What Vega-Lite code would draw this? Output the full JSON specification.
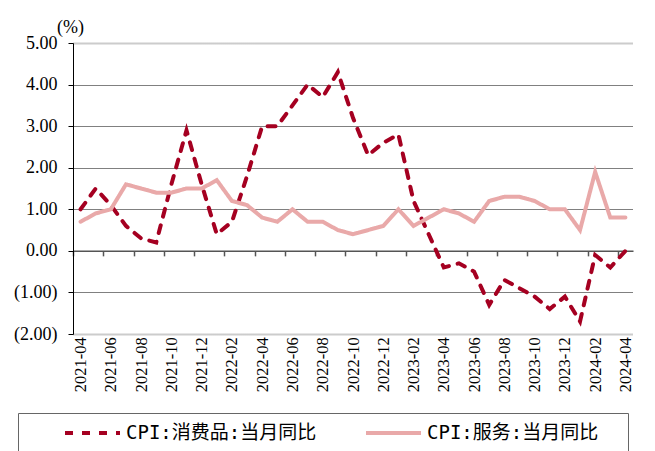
{
  "$schema": "https://vega.github.io/schema/vega-lite/v6.json",
  "autosize": "none",
  "width": 560,
  "height": 291,
  "padding": {"left": 73, "top": 43, "right": 22, "bottom": 117},
  "background": "white",
  "data": {
    "values": [
      {"m": "2021-04", "s": "CPI:消费品:当月同比", "v": 1.0},
      {"m": "2021-05", "s": "CPI:消费品:当月同比", "v": 1.5},
      {"m": "2021-06", "s": "CPI:消费品:当月同比", "v": 1.1},
      {"m": "2021-07", "s": "CPI:消费品:当月同比", "v": 0.6},
      {"m": "2021-08", "s": "CPI:消费品:当月同比", "v": 0.3},
      {"m": "2021-09", "s": "CPI:消费品:当月同比", "v": 0.2},
      {"m": "2021-10", "s": "CPI:消费品:当月同比", "v": 1.6},
      {"m": "2021-11", "s": "CPI:消费品:当月同比", "v": 2.9},
      {"m": "2021-12", "s": "CPI:消费品:当月同比", "v": 1.6},
      {"m": "2022-01", "s": "CPI:消费品:当月同比", "v": 0.4},
      {"m": "2022-02", "s": "CPI:消费品:当月同比", "v": 0.7},
      {"m": "2022-03", "s": "CPI:消费品:当月同比", "v": 1.8},
      {"m": "2022-04", "s": "CPI:消费品:当月同比", "v": 3.0},
      {"m": "2022-05", "s": "CPI:消费品:当月同比", "v": 3.0},
      {"m": "2022-06", "s": "CPI:消费品:当月同比", "v": 3.5},
      {"m": "2022-07", "s": "CPI:消费品:当月同比", "v": 4.0},
      {"m": "2022-08", "s": "CPI:消费品:当月同比", "v": 3.7},
      {"m": "2022-09", "s": "CPI:消费品:当月同比", "v": 4.3},
      {"m": "2022-10", "s": "CPI:消费品:当月同比", "v": 3.2},
      {"m": "2022-11", "s": "CPI:消费品:当月同比", "v": 2.3},
      {"m": "2022-12", "s": "CPI:消费品:当月同比", "v": 2.6},
      {"m": "2023-01", "s": "CPI:消费品:当月同比", "v": 2.8},
      {"m": "2023-02", "s": "CPI:消费品:当月同比", "v": 1.2},
      {"m": "2023-03", "s": "CPI:消费品:当月同比", "v": 0.4},
      {"m": "2023-04", "s": "CPI:消费品:当月同比", "v": -0.4},
      {"m": "2023-05", "s": "CPI:消费品:当月同比", "v": -0.3},
      {"m": "2023-06", "s": "CPI:消费品:当月同比", "v": -0.5},
      {"m": "2023-07", "s": "CPI:消费品:当月同比", "v": -1.3},
      {"m": "2023-08", "s": "CPI:消费品:当月同比", "v": -0.7},
      {"m": "2023-09", "s": "CPI:消费品:当月同比", "v": -0.9},
      {"m": "2023-10", "s": "CPI:消费品:当月同比", "v": -1.1},
      {"m": "2023-11", "s": "CPI:消费品:当月同比", "v": -1.4},
      {"m": "2023-12", "s": "CPI:消费品:当月同比", "v": -1.1},
      {"m": "2024-01", "s": "CPI:消费品:当月同比", "v": -1.7},
      {"m": "2024-02", "s": "CPI:消费品:当月同比", "v": -0.1},
      {"m": "2024-03", "s": "CPI:消费品:当月同比", "v": -0.4},
      {"m": "2024-04", "s": "CPI:消费品:当月同比", "v": 0.0},
      {"m": "2021-04", "s": "CPI:服务:当月同比", "v": 0.7},
      {"m": "2021-05", "s": "CPI:服务:当月同比", "v": 0.9},
      {"m": "2021-06", "s": "CPI:服务:当月同比", "v": 1.0},
      {"m": "2021-07", "s": "CPI:服务:当月同比", "v": 1.6},
      {"m": "2021-08", "s": "CPI:服务:当月同比", "v": 1.5},
      {"m": "2021-09", "s": "CPI:服务:当月同比", "v": 1.4},
      {"m": "2021-10", "s": "CPI:服务:当月同比", "v": 1.4},
      {"m": "2021-11", "s": "CPI:服务:当月同比", "v": 1.5},
      {"m": "2021-12", "s": "CPI:服务:当月同比", "v": 1.5},
      {"m": "2022-01", "s": "CPI:服务:当月同比", "v": 1.7},
      {"m": "2022-02", "s": "CPI:服务:当月同比", "v": 1.2},
      {"m": "2022-03", "s": "CPI:服务:当月同比", "v": 1.1},
      {"m": "2022-04", "s": "CPI:服务:当月同比", "v": 0.8},
      {"m": "2022-05", "s": "CPI:服务:当月同比", "v": 0.7},
      {"m": "2022-06", "s": "CPI:服务:当月同比", "v": 1.0},
      {"m": "2022-07", "s": "CPI:服务:当月同比", "v": 0.7},
      {"m": "2022-08", "s": "CPI:服务:当月同比", "v": 0.7},
      {"m": "2022-09", "s": "CPI:服务:当月同比", "v": 0.5},
      {"m": "2022-10", "s": "CPI:服务:当月同比", "v": 0.4},
      {"m": "2022-11", "s": "CPI:服务:当月同比", "v": 0.5},
      {"m": "2022-12", "s": "CPI:服务:当月同比", "v": 0.6},
      {"m": "2023-01", "s": "CPI:服务:当月同比", "v": 1.0},
      {"m": "2023-02", "s": "CPI:服务:当月同比", "v": 0.6},
      {"m": "2023-03", "s": "CPI:服务:当月同比", "v": 0.8},
      {"m": "2023-04", "s": "CPI:服务:当月同比", "v": 1.0},
      {"m": "2023-05", "s": "CPI:服务:当月同比", "v": 0.9},
      {"m": "2023-06", "s": "CPI:服务:当月同比", "v": 0.7},
      {"m": "2023-07", "s": "CPI:服务:当月同比", "v": 1.2},
      {"m": "2023-08", "s": "CPI:服务:当月同比", "v": 1.3},
      {"m": "2023-09", "s": "CPI:服务:当月同比", "v": 1.3},
      {"m": "2023-10", "s": "CPI:服务:当月同比", "v": 1.2},
      {"m": "2023-11", "s": "CPI:服务:当月同比", "v": 1.0},
      {"m": "2023-12", "s": "CPI:服务:当月同比", "v": 1.0},
      {"m": "2024-01", "s": "CPI:服务:当月同比", "v": 0.5},
      {"m": "2024-02", "s": "CPI:服务:当月同比", "v": 1.9},
      {"m": "2024-03", "s": "CPI:服务:当月同比", "v": 0.8},
      {"m": "2024-04", "s": "CPI:服务:当月同比", "v": 0.8}
    ]
  },
  "mark": {"type": "line", "strokeWidth": 4, "strokeCap": "round", "strokeJoin": "miter"},
  "encoding": {
    "x": {
      "field": "m",
      "type": "ordinal",
      "sort": null,
      "scale": {"type": "point", "padding": 0.5},
      "axis": {
        "title": null,
        "orient": "bottom",
        "offset": -83.14,
        "values": ["2021-04","2021-06","2021-08","2021-10","2021-12","2022-02","2022-04","2022-06","2022-08","2022-10","2022-12","2023-02","2023-04","2023-06","2023-08","2023-10","2023-12","2024-02","2024-04"],
        "tickOffset": -7.57,
        "labelOffset": 7.57,
        "tickSize": 5,
        "tickWidth": 1.5,
        "tickColor": "#555",
        "domainColor": "#555",
        "domainWidth": 1.5,
        "labelAngle": 270,
        "labelAlign": "right",
        "labelBaseline": "middle",
        "labelPadding": 81,
        "labelFont": "Liberation Serif",
        "labelFontSize": 16.5,
        "labelColor": "#000",
        "labelOverlap": false,
        "grid": false
      }
    },
    "y": {
      "field": "v",
      "type": "quantitative",
      "scale": {"domain": [-2, 5], "nice": false, "zero": false},
      "axis": {
        "title": "(%)",
        "titleAngle": 0,
        "titleX": -3,
        "titleY": -16,
        "titleAlign": "center",
        "titleBaseline": "middle",
        "titleFont": "Liberation Serif",
        "titleFontSize": 18,
        "titleFontWeight": "normal",
        "titleColor": "#000",
        "values": [-2, -1, 0, 1, 2, 3, 4, 5],
        "labelExpr": "datum.value < 0 ? '(' + format(-datum.value, '.2f') + ')' : format(datum.value, '.2f') + '\u00a0'",
        "labelFont": "Liberation Serif",
        "labelFontSize": 18,
        "labelColor": "#000",
        "labelPadding": 11,
        "tickSize": 5,
        "tickColor": "#000",
        "domainColor": "#000",
        "domainWidth": 1,
        "grid": true,
        "gridColor": {"condition": {"test": "datum.value === 5 || datum.value === -2", "value": "#999"}, "value": "#000"},
        "gridWidth": {"condition": {"test": "datum.value === 5 || datum.value === -2", "value": 2}, "value": 1},
        "gridDash": [1, 1],
        "gridOpacity": 1
      }
    },
    "color": {
      "field": "s",
      "type": "nominal",
      "sort": null,
      "scale": {"domain": ["CPI:消费品:当月同比", "CPI:服务:当月同比"], "range": ["#A50021", "#E9A9A9"]},
      "legend": {
        "title": "\u00a0",
        "titleOrient": "right",
        "titlePadding": 20,
        "titleFontSize": 19,
        "orient": "none",
        "legendX": -55,
        "legendY": 370,
        "direction": "horizontal",
        "symbolType": "stroke",
        "symbolSize": 3025,
        "symbolStrokeWidth": 4,
        "symbolOffset": 35,
        "clipHeight": 20,
        "labelFont": "DejaVu Sans Mono, Noto Sans CJK SC",
        "labelFontSize": 19,
        "labelLimit": 400,
        "labelColor": "#000",
        "labelPadding": 3,
        "columnPadding": 12,
        "padding": 10,
        "strokeColor": "#666",
        "fillColor": "white"
      }
    },
    "strokeDash": {
      "field": "s",
      "type": "nominal",
      "sort": null,
      "scale": {"domain": ["CPI:消费品:当月同比", "CPI:服务:当月同比"], "range": [[8, 9], [1, 0]]},
      "legend": {
        "title": "\u00a0",
        "titleOrient": "right",
        "titlePadding": 20,
        "titleFontSize": 19,
        "orient": "none",
        "legendX": -55,
        "legendY": 370,
        "direction": "horizontal",
        "symbolType": "stroke",
        "symbolSize": 3025,
        "symbolStrokeWidth": 4,
        "symbolOffset": 35,
        "clipHeight": 20,
        "labelFont": "DejaVu Sans Mono, Noto Sans CJK SC",
        "labelFontSize": 19,
        "labelLimit": 400,
        "labelColor": "#000",
        "labelPadding": 3,
        "columnPadding": 12,
        "padding": 10,
        "strokeColor": "#666",
        "fillColor": "white"
      }
    }
  },
  "config": {
    "view": {"stroke": null},
    "font": "Liberation Serif"
  }
}
